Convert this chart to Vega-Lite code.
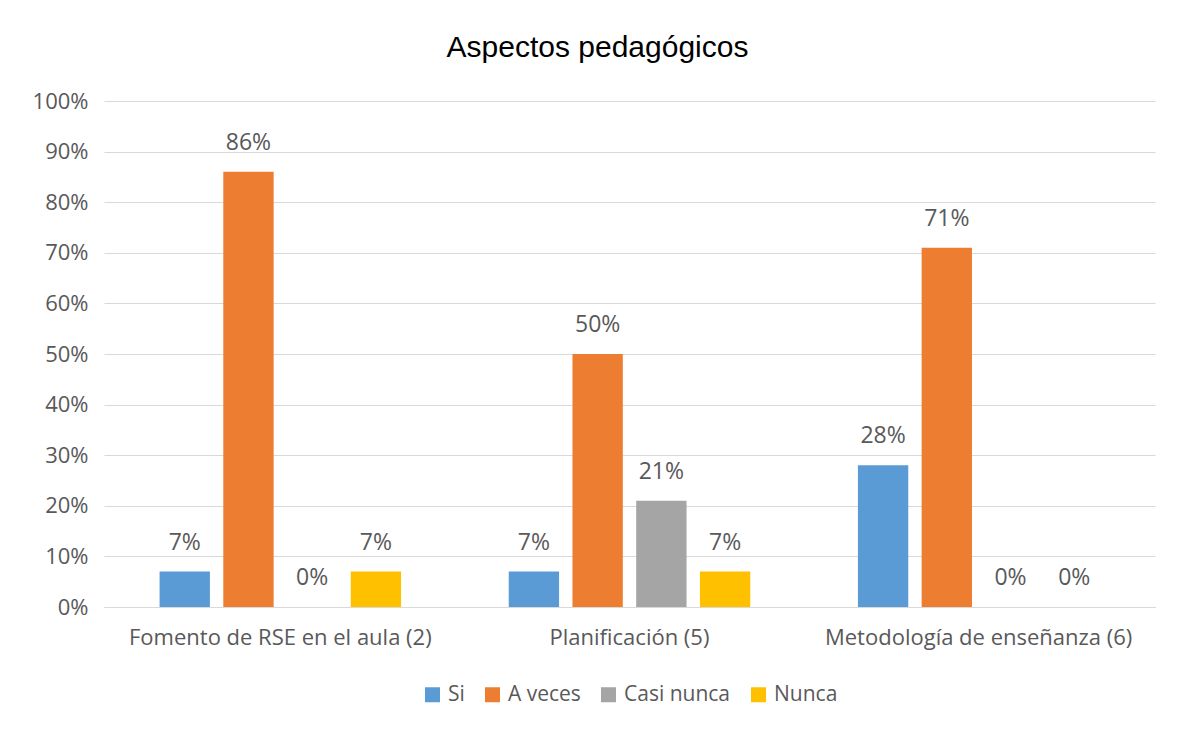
{
  "$schema": "https://vega.github.io/schema/vega-lite/v6.json",
  "autosize": {"type": "none"},
  "width": 1051,
  "height": 506,
  "padding": {"left": 104, "top": 101, "right": 24, "bottom": 133},
  "background": "white",
  "title": {
    "text": "Aspectos pedagógicos",
    "font": "Liberation Sans",
    "fontSize": 30,
    "fontWeight": "normal",
    "color": "#000000",
    "anchor": "middle",
    "dx": -32,
    "offset": 27
  },
  "data": {
    "values": [
      {"cat": "Fomento de RSE en el aula (2)", "serie": "Si", "v": 0.07},
      {"cat": "Fomento de RSE en el aula (2)", "serie": "A veces", "v": 0.86},
      {"cat": "Fomento de RSE en el aula (2)", "serie": "Casi nunca", "v": 0},
      {"cat": "Fomento de RSE en el aula (2)", "serie": "Nunca", "v": 0.07},
      {"cat": "Planificación (5)", "serie": "Si", "v": 0.07},
      {"cat": "Planificación (5)", "serie": "A veces", "v": 0.5},
      {"cat": "Planificación (5)", "serie": "Casi nunca", "v": 0.21},
      {"cat": "Planificación (5)", "serie": "Nunca", "v": 0.07},
      {"cat": "Metodología de enseñanza (6)", "serie": "Si", "v": 0.28},
      {"cat": "Metodología de enseñanza (6)", "serie": "A veces", "v": 0.71},
      {"cat": "Metodología de enseñanza (6)", "serie": "Casi nunca", "v": 0},
      {"cat": "Metodología de enseñanza (6)", "serie": "Nunca", "v": 0}
    ]
  },
  "encoding": {
    "x": {
      "field": "cat",
      "type": "nominal",
      "sort": null,
      "scale": {"paddingInner": 0.27, "paddingOuter": 0.14},
      "axis": {
        "title": null,
        "labelAngle": 0,
        "labelLimit": 0,
        "labelFont": "Open Sans",
        "labelFontSize": 22,
        "labelColor": "#595959",
        "labelPadding": 20,
        "ticks": false,
        "domainColor": "#D9D9D9",
        "domainWidth": 1
      }
    },
    "xOffset": {
      "field": "serie",
      "type": "nominal",
      "sort": ["Si", "A veces", "Casi nunca", "Nunca"],
      "scale": {"paddingInner": 0.21, "paddingOuter": 0.105}
    },
    "y": {
      "field": "v",
      "type": "quantitative",
      "scale": {"domain": [0, 1], "nice": false},
      "axis": {
        "title": null,
        "format": ".0%",
        "values": [0, 0.1, 0.2, 0.3, 0.4, 0.5, 0.6, 0.7, 0.8, 0.9, 1],
        "labelFont": "Open Sans",
        "labelFontSize": 22,
        "labelColor": "#595959",
        "labelPadding": 16,
        "ticks": false,
        "domain": false,
        "gridColor": "#D9D9D9",
        "gridWidth": 1
      }
    }
  },
  "layer": [
    {
      "mark": {"type": "bar"},
      "encoding": {
        "color": {
          "field": "serie",
          "type": "nominal",
          "sort": ["Si", "A veces", "Casi nunca", "Nunca"],
          "scale": {
            "domain": ["Si", "A veces", "Casi nunca", "Nunca"],
            "range": ["#5B9BD5", "#ED7D31", "#A5A5A5", "#FFC000"]
          },
          "legend": {
            "title": null,
            "orient": "bottom",
            "direction": "horizontal",
            "symbolType": "square",
            "symbolSize": 225,
            "symbolStrokeWidth": 0,
            "labelFont": "Open Sans",
            "labelFontSize": 21,
            "labelColor": "#595959",
            "labelOffset": 5,
            "columnPadding": 17,
            "offset": 36
          }
        }
      }
    },
    {
      "mark": {
        "type": "text",
        "dy": -17,
        "baseline": "bottom",
        "font": "Open Sans",
        "fontSize": 23,
        "color": "#595959"
      },
      "encoding": {
        "text": {"field": "v", "type": "quantitative", "format": ".0%"}
      }
    }
  ],
  "config": {
    "view": {"stroke": null},
    "legend": {"layout": {"bottom": {"anchor": "middle"}}}
  }
}
